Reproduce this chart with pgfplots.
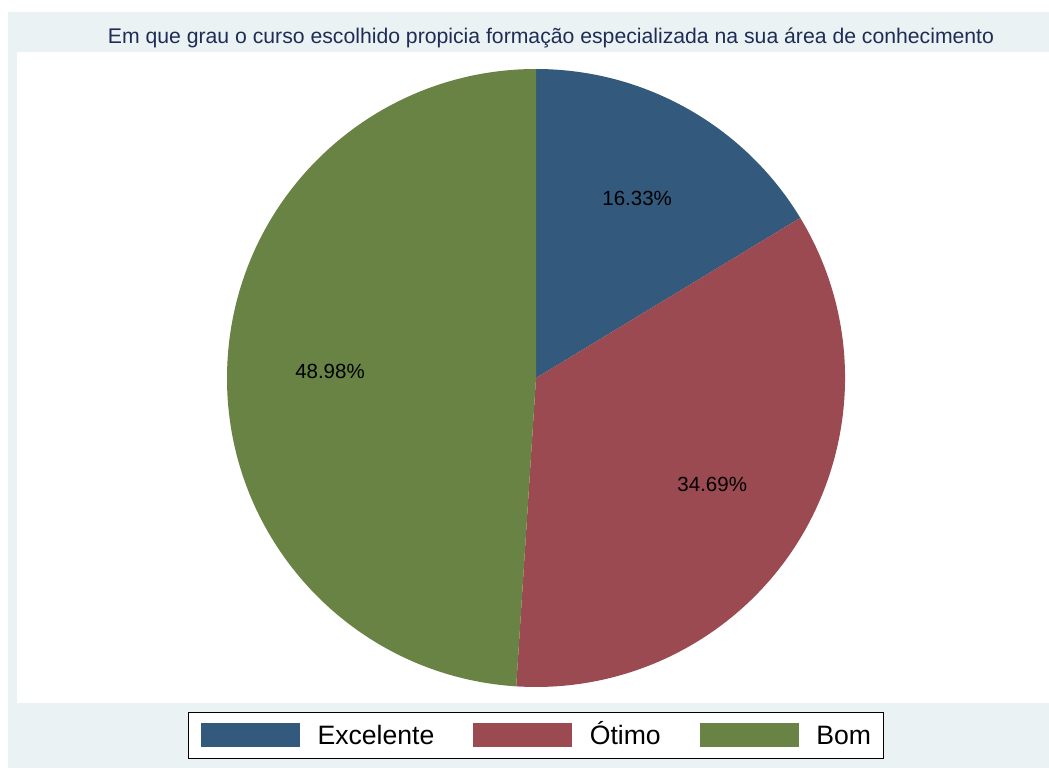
\documentclass[border=0pt]{standalone}
\usepackage{fontspec}
\setmainfont{Liberation Sans}
\usepackage{pgfplots}
\usepackage{pgfplotstable}
\pgfplotsset{compat=1.18}
\definecolor{bgc}{HTML}{EAF2F3}
\definecolor{titlec}{HTML}{1F2D56}
\definecolor{exc}{HTML}{335A7D}
\definecolor{oti}{HTML}{9A4A50}
\definecolor{bom}{HTML}{688343}

\pgfplotstableread[col sep=comma]{
label,value
Excelente,16.33
Otimo,34.69
Bom,48.98
}\piedata

\begin{document}
\begin{tikzpicture}
\fill[white] (0pt,0pt) rectangle (1049pt,769pt);
\fill[bgc] (8pt,1pt) rectangle (1049pt,757pt);
\fill[white] (17pt,66pt) rectangle (1049pt,717pt);
\node[text=titlec, font=\fontsize{21.2}{25}\selectfont, inner sep=0pt] at (551pt,731pt) {Em que grau o curso escolhido propicia formação especializada na sua área de conhecimento};
\pgfplotstablegetelem{0}{value}\of\piedata \let\vA\pgfplotsretval
\pgfplotstablegetelem{1}{value}\of\piedata \let\vB\pgfplotsretval
\pgfplotstablegetelem{2}{value}\of\piedata \let\vC\pgfplotsretval
\pgfmathsetmacro\aA{90}
\pgfmathsetmacro\aB{\aA-3.6*\vA}
\pgfmathsetmacro\aC{\aB-3.6*\vB}
\pgfmathsetmacro\aD{\aC-3.6*\vC}
\pgfmathsetmacro\mA{(\aA+\aB)/2}
\pgfmathsetmacro\mB{(\aB+\aC)/2}
\pgfmathsetmacro\mC{(\aC+\aD)/2}
\begin{axis}[at={(536pt,391pt)}, anchor=center, scale only axis,
  width=618pt, height=618pt, xmin=-1, xmax=1, ymin=-1, ymax=1,
  hide axis, clip=false,
  legend columns=3,
  legend image code/.code={\fill[#1, draw=none] (0pt,-12pt) rectangle (99pt,12pt);},
  legend style={at={(0.5,-0.0777)}, anchor=center, draw=black, line width=1pt,
    fill=white, inner xsep=12.5pt, inner ysep=11pt,
    font=\fontsize{26.6}{30}\selectfont,
    nodes={inner sep=0pt, text height=19pt, text depth=0pt},
    /tikz/every odd column/.append style={column sep=17.5pt},
    /tikz/every even column/.append style={column sep=39pt}},
]
\addlegendimage{fill=exc}
\addlegendentry{Excelente}
\addlegendimage{fill=oti}
\addlegendentry{Ótimo}
\addlegendimage{fill=bom}
\addlegendentry{Bom}
\fill[exc] (axis cs:0,0) -- (axis cs:{cos(\aA)},{sin(\aA)}) arc[start angle=\aA, end angle=\aB, radius=309pt] -- cycle;
\fill[oti] (axis cs:0,0) -- (axis cs:{cos(\aB)},{sin(\aB)}) arc[start angle=\aB, end angle=\aC, radius=309pt] -- cycle;
\fill[bom] (axis cs:0,0) -- (axis cs:{cos(\aC)},{sin(\aC)}) arc[start angle=\aC, end angle=\aD, radius=309pt] -- cycle;
\node[font=\fontsize{20.5}{24}\selectfont] at (axis cs:{0.667*cos(\mA)},{0.667*sin(\mA)}) {\vA\%};
\node[font=\fontsize{20.5}{24}\selectfont] at (axis cs:{0.667*cos(\mB)},{0.667*sin(\mB)}) {\vB\%};
\node[font=\fontsize{20.5}{24}\selectfont] at (axis cs:{0.667*cos(\mC)},{0.667*sin(\mC)}) {\vC\%};
\end{axis}
\end{tikzpicture}
\end{document}
